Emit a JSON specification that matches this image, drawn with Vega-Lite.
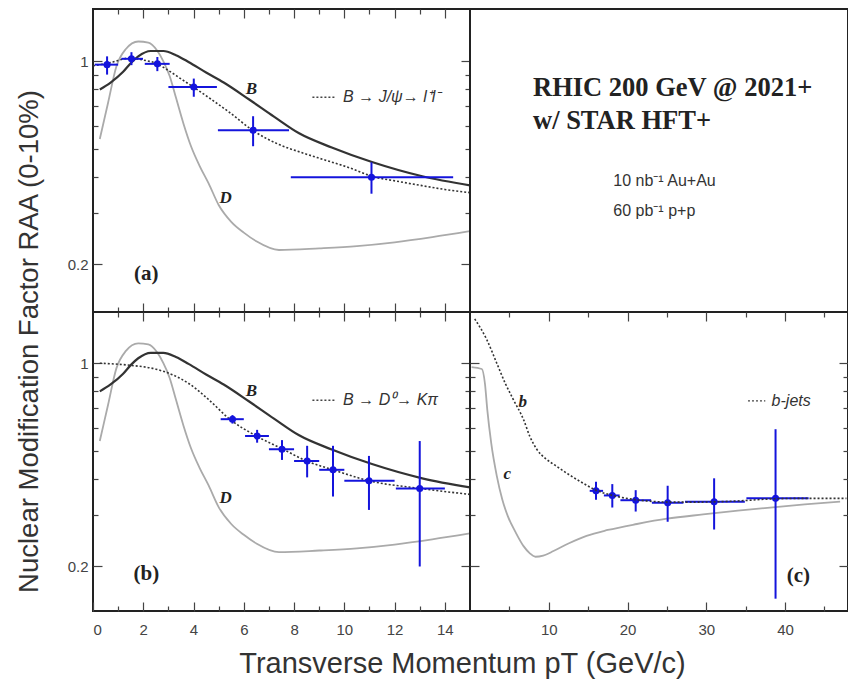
{
  "$schema": "https://vega.github.io/schema/vega-lite/v6.json",
  "background": "white",
  "padding": {"left": 14, "top": 7, "right": 0, "bottom": 0},
  "bounds": "flush",
  "spacing": 0,
  "columns": 2,
  "datasets": {
    "curves": [
      {"s":"B","x":0.27,"y":0.80},{"s":"B","x":0.7,"y":0.845},{"s":"B","x":1.2,"y":0.92},{"s":"B","x":1.5,"y":0.985},{"s":"B","x":1.8,"y":1.04},{"s":"B","x":2.3,"y":1.085},{"s":"B","x":2.8,"y":1.085},{"s":"B","x":3.3,"y":1.05},{"s":"B","x":3.8,"y":0.995},{"s":"B","x":4.5,"y":0.915},{"s":"B","x":5.2,"y":0.845},{"s":"B","x":6.2,"y":0.74},{"s":"B","x":7.2,"y":0.645},{"s":"B","x":8.2,"y":0.565},{"s":"B","x":9.5,"y":0.505},{"s":"B","x":11.1,"y":0.45},{"s":"B","x":13.1,"y":0.402},{"s":"B","x":15,"y":0.374},
      {"s":"D","x":0.27,"y":0.54},{"s":"D","x":0.6,"y":0.72},{"s":"D","x":0.93,"y":0.96},{"s":"D","x":1.3,"y":1.10},{"s":"D","x":1.8,"y":1.17},{"s":"D","x":2.2,"y":1.16},{"s":"D","x":2.55,"y":1.09},{"s":"D","x":2.8,"y":1.0},{"s":"D","x":3.05,"y":0.89},{"s":"D","x":3.3,"y":0.75},{"s":"D","x":3.6,"y":0.61},{"s":"D","x":3.9,"y":0.51},{"s":"D","x":4.25,"y":0.435},{"s":"D","x":4.6,"y":0.38},{"s":"D","x":5.0,"y":0.32},{"s":"D","x":5.5,"y":0.28},{"s":"D","x":6.0,"y":0.257},{"s":"D","x":6.5,"y":0.24},{"s":"D","x":7.4,"y":0.224},{"s":"D","x":9,"y":0.227},{"s":"D","x":10.5,"y":0.231},{"s":"D","x":12,"y":0.238},{"s":"D","x":13.5,"y":0.248},{"s":"D","x":15,"y":0.26},
      {"s":"J","x":0.0,"y":0.965},{"s":"J","x":0.7,"y":0.99},{"s":"J","x":1.5,"y":1.027},{"s":"J","x":2.0,"y":1.01},{"s":"J","x":2.5,"y":0.985},{"s":"J","x":3.0,"y":0.93},{"s":"J","x":3.5,"y":0.87},{"s":"J","x":4.0,"y":0.815},{"s":"J","x":4.7,"y":0.74},{"s":"J","x":5.4,"y":0.67},{"s":"J","x":6.4,"y":0.575},{"s":"J","x":7.4,"y":0.517},{"s":"J","x":8.3,"y":0.485},{"s":"J","x":9.2,"y":0.458},{"s":"J","x":10.2,"y":0.43},{"s":"J","x":11.1,"y":0.402},{"s":"J","x":12.2,"y":0.385},{"s":"J","x":13.1,"y":0.373},{"s":"J","x":14,"y":0.362},{"s":"J","x":15,"y":0.353},
      {"s":"D0","x":0.27,"y":1.0},{"s":"D0","x":1.46,"y":0.984},{"s":"D0","x":2.5,"y":0.954},{"s":"D0","x":3.2,"y":0.91},{"s":"D0","x":3.85,"y":0.847},{"s":"D0","x":4.6,"y":0.75},{"s":"D0","x":5.44,"y":0.642},{"s":"D0","x":6.5,"y":0.562},{"s":"D0","x":7.56,"y":0.506},{"s":"D0","x":8.5,"y":0.461},{"s":"D0","x":9.55,"y":0.43},{"s":"D0","x":11.0,"y":0.394},{"s":"D0","x":13.0,"y":0.371},{"s":"D0","x":15,"y":0.354},
      {"s":"bq","x":0.6,"y":1.42},{"s":"bq","x":2.1,"y":1.21},{"s":"bq","x":3.4,"y":1.0},{"s":"bq","x":4.5,"y":0.85},{"s":"bq","x":5.5,"y":0.75},{"s":"bq","x":6.8,"y":0.64},{"s":"bq","x":7.6,"y":0.56},{"s":"bq","x":8.5,"y":0.505},{"s":"bq","x":9.6,"y":0.47},{"s":"bq","x":11.0,"y":0.442},{"s":"bq","x":12.5,"y":0.415},{"s":"bq","x":14.0,"y":0.392},{"s":"bq","x":16.1,"y":0.365},{"s":"bq","x":18.1,"y":0.351},{"s":"bq","x":21.2,"y":0.339},{"s":"bq","x":25.4,"y":0.333},{"s":"bq","x":29.0,"y":0.333},{"s":"bq","x":33.9,"y":0.336},{"s":"bq","x":38.8,"y":0.342},{"s":"bq","x":42.3,"y":0.343},{"s":"bq","x":47.8,"y":0.343},
      {"s":"cq","x":0.2,"y":0.97},{"s":"cq","x":1.5,"y":0.955},{"s":"cq","x":1.9,"y":0.85},{"s":"cq","x":2.2,"y":0.69},{"s":"cq","x":2.7,"y":0.53},{"s":"cq","x":3.4,"y":0.41},{"s":"cq","x":4.1,"y":0.34},{"s":"cq","x":4.8,"y":0.298},{"s":"cq","x":5.8,"y":0.262},{"s":"cq","x":6.8,"y":0.235},{"s":"cq","x":7.6,"y":0.222},{"s":"cq","x":8.3,"y":0.216},{"s":"cq","x":9.3,"y":0.218},{"s":"cq","x":10.6,"y":0.226},{"s":"cq","x":12.5,"y":0.24},{"s":"cq","x":14.8,"y":0.255},{"s":"cq","x":17.5,"y":0.267},{"s":"cq","x":21.2,"y":0.28},{"s":"cq","x":25,"y":0.292},{"s":"cq","x":29.6,"y":0.302},{"s":"cq","x":34,"y":0.311},{"s":"cq","x":38.1,"y":0.319},{"s":"cq","x":42.5,"y":0.327},{"s":"cq","x":47,"y":0.334}
    ],
    "pts": [
      {"p":"a","x":0.56,"y":0.974,"xlo":0.07,"xhi":1.0,"ylo":0.90,"yhi":1.04},
      {"p":"a","x":1.53,"y":1.02,"xlo":1.13,"xhi":1.99,"ylo":0.97,"yhi":1.075},
      {"p":"a","x":2.56,"y":0.98,"xlo":2.06,"xhi":3.05,"ylo":0.925,"yhi":1.035},
      {"p":"a","x":4.01,"y":0.816,"xlo":3.0,"xhi":4.93,"ylo":0.755,"yhi":0.872},
      {"p":"a","x":6.37,"y":0.579,"xlo":4.97,"xhi":7.8,"ylo":0.51,"yhi":0.647},
      {"p":"a","x":11.08,"y":0.399,"xlo":7.87,"xhi":14.33,"ylo":0.35,"yhi":0.449},
      {"p":"b","x":5.55,"y":0.642,"xlo":5.08,"xhi":6.0,"ylo":0.62,"yhi":0.663},
      {"p":"b","x":6.53,"y":0.562,"xlo":6.05,"xhi":7.0,"ylo":0.533,"yhi":0.59},
      {"p":"b","x":7.52,"y":0.506,"xlo":7.0,"xhi":8.0,"ylo":0.465,"yhi":0.544},
      {"p":"b","x":8.52,"y":0.461,"xlo":8.0,"xhi":9.0,"ylo":0.405,"yhi":0.52},
      {"p":"b","x":9.55,"y":0.43,"xlo":9.0,"xhi":10.0,"ylo":0.348,"yhi":0.52},
      {"p":"b","x":10.98,"y":0.394,"xlo":10.0,"xhi":12.0,"ylo":0.313,"yhi":0.48},
      {"p":"b","x":13.0,"y":0.371,"xlo":12.05,"xhi":14.0,"ylo":0.20,"yhi":0.54},
      {"p":"c","x":16.0,"y":0.364,"xlo":15.2,"xhi":16.9,"ylo":0.339,"yhi":0.391},
      {"p":"c","x":18.07,"y":0.351,"xlo":17.0,"xhi":19.0,"ylo":0.319,"yhi":0.384},
      {"p":"c","x":21.04,"y":0.338,"xlo":19.1,"xhi":23.0,"ylo":0.309,"yhi":0.366},
      {"p":"c","x":25.1,"y":0.331,"xlo":23.1,"xhi":27.1,"ylo":0.285,"yhi":0.379},
      {"p":"c","x":31.0,"y":0.334,"xlo":27.3,"xhi":34.9,"ylo":0.268,"yhi":0.402},
      {"p":"c","x":38.8,"y":0.343,"xlo":35.1,"xhi":43.0,"ylo":0.155,"yhi":0.593}
    ],
    "labels": [
      {"p":"a","k":"lab","x":6.3,"y":0.80,"t":"B"},
      {"p":"a","k":"lab","x":5.28,"y":0.337,"t":"D"},
      {"p":"a","k":"pan","x":2.12,"y":0.185,"t":"(a)"},
      {"p":"a","k":"seg","x":8.73,"x2":9.68,"y":0.752},
      {"p":"a","k":"leg","x":9.95,"y":0.752,"t":"B → J/ψ→ l⁺l⁻"},
      {"p":"b","k":"lab","x":6.3,"y":0.803,"t":"B"},
      {"p":"b","k":"lab","x":5.28,"y":0.345,"t":"D"},
      {"p":"b","k":"pan","x":2.12,"y":0.188,"t":"(b)"},
      {"p":"b","k":"seg","x":8.73,"x2":9.68,"y":0.746},
      {"p":"b","k":"leg","x":9.95,"y":0.746,"t":"B → D⁰→ Kπ"},
      {"p":"c","k":"lab","x":6.69,"y":0.733,"t":"b"},
      {"p":"c","k":"lab","x":4.74,"y":0.415,"t":"c"},
      {"p":"c","k":"pan","x":41.7,"y":0.186,"t":"(c)"},
      {"p":"c","k":"seg","x":35.3,"x2":37.5,"y":0.742},
      {"p":"c","k":"leg","x":38.3,"y":0.742,"t":"b-jets"},
      {"p":"t","k":"title","x":8.0,"y":0.812,"t":"RHIC 200 GeV @ 2021+"},
      {"p":"t","k":"title","x":8.0,"y":0.622,"t":"w/ STAR HFT+"},
      {"p":"t","k":"info","x":18.2,"y":0.387,"t":"10 nb⁻¹ Au+Au"},
      {"p":"t","k":"info","x":18.2,"y":0.305,"t":"60 pb⁻¹ p+p"}
    ]
  },
  "concat": [
    {
      "width": 377, "height": 303,
      "resolve": {"axis": {"x": "independent", "y": "independent"}},
      "layer": [
        {"data": {"name": "curves"}, "transform": [{"filter": "datum.s === 'D'"}],
         "mark": {"type": "line", "color": "#aaaaaa", "strokeWidth": 1.8, "interpolate": "monotone", "clip": true},
         "encoding": {
           "x": {"field": "x", "type": "quantitative", "scale": {"domain": [0, 15], "nice": false, "zero": false},
                 "axis": {"orient": "bottom", "values": [1,2,3,4,5,6,7,8,9,10,11,12,13,14], "labels": false, "title": null,
                          "tickSize": {"condition": {"test": "datum.value % 2 === 0", "value": -9}, "value": -5}}},
           "y": {"field": "y", "type": "quantitative", "scale": {"type": "log", "domain": [0.137, 1.514], "nice": false},
                 "axis": {"orient": "left", "values": [0.2,0.3,0.4,0.5,0.6,0.7,0.8,0.9,1],
                          "labelExpr": "datum.value === 1 ? '1' : (datum.value === 0.2 ? '0.2' : '')",
                          "tickSize": {"condition": {"test": "datum.value === 1 || datum.value === 0.2", "value": -9}, "value": -5},
                          "labelPadding": 14,
                          "title": "Nuclear Modification Factor RAA (0-10%)",
                          "titleFont": "Liberation Sans", "titleFontSize": 27.5, "titleFontWeight": "normal", "titleColor": "#333",
                          "titleAngle": -90, "titleX": -64, "titleY": 332, "titleAlign": "center", "titleBaseline": "middle"}}
         }},
        {"data": {"name": "curves"}, "transform": [{"filter": "datum.s === 'B'"}],
         "mark": {"type": "line", "color": "#333333", "strokeWidth": 2.2, "interpolate": "monotone", "clip": true},
         "encoding": {
           "x": {"field": "x", "type": "quantitative",
                 "axis": {"orient": "top", "values": [1,2,3,4,5,6,7,8,9,10,11,12,13,14], "labels": false, "title": null,
                          "tickSize": {"condition": {"test": "datum.value % 2 === 0", "value": -9}, "value": -5}}},
           "y": {"field": "y", "type": "quantitative",
                 "axis": {"orient": "right", "values": [0.2,0.3,0.4,0.5,0.6,0.7,0.8,0.9,1], "labels": false, "title": null,
                          "tickSize": {"condition": {"test": "datum.value === 1 || datum.value === 0.2", "value": -9}, "value": -5}}}
         }},
        {"data": {"name": "curves"}, "transform": [{"filter": "datum.s === 'J'"}],
         "mark": {"type": "line", "color": "#333333", "strokeWidth": 1.6, "strokeDash": [2, 2], "interpolate": "monotone", "clip": true},
         "encoding": {"x": {"field": "x", "type": "quantitative", "axis": null}, "y": {"field": "y", "type": "quantitative", "axis": null}}},
        {"mark": {"type": "rule", "color": "#444444", "strokeWidth": 1.4, "strokeDash": [2, 2]},
         "encoding": {"y": {"datum": 1, "type": "quantitative", "axis": null}}},
        {"data": {"name": "pts"}, "transform": [{"filter": "datum.p === 'a'"}],
         "mark": {"type": "rule", "color": "#1414dc", "strokeWidth": 2},
         "encoding": {"x": {"field": "xlo", "type": "quantitative", "axis": null}, "x2": {"field": "xhi"}, "y": {"field": "y", "type": "quantitative", "axis": null}}},
        {"data": {"name": "pts"}, "transform": [{"filter": "datum.p === 'a'"}],
         "mark": {"type": "rule", "color": "#1414dc", "strokeWidth": 2},
         "encoding": {"x": {"field": "x", "type": "quantitative", "axis": null}, "y": {"field": "ylo", "type": "quantitative", "axis": null}, "y2": {"field": "yhi"}}},
        {"data": {"name": "pts"}, "transform": [{"filter": "datum.p === 'a'"}],
         "mark": {"type": "circle", "color": "#1414dc", "opacity": 1, "size": 50},
         "encoding": {"x": {"field": "x", "type": "quantitative", "axis": null}, "y": {"field": "y", "type": "quantitative", "axis": null}}},
        {"data": {"name": "labels"}, "transform": [{"filter": "datum.p === 'a' && datum.k === 'seg'"}],
         "mark": {"type": "rule", "color": "#444444", "strokeWidth": 1.4, "strokeDash": [2, 2]},
         "encoding": {"x": {"field": "x", "type": "quantitative", "axis": null}, "x2": {"field": "x2"}, "y": {"field": "y", "type": "quantitative", "axis": null}}},
        {"data": {"name": "labels"}, "transform": [{"filter": "datum.p === 'a' && datum.k === 'leg'"}],
         "mark": {"type": "text", "font": "Liberation Sans", "fontStyle": "italic", "fontSize": 16, "align": "left", "baseline": "middle", "color": "#333"},
         "encoding": {"x": {"field": "x", "type": "quantitative", "axis": null}, "y": {"field": "y", "type": "quantitative", "axis": null}, "text": {"field": "t"}}},
        {"data": {"name": "labels"}, "transform": [{"filter": "datum.p === 'a' && datum.k === 'lab'"}],
         "mark": {"type": "text", "font": "Liberation Serif", "fontStyle": "italic", "fontWeight": "bold", "fontSize": 17, "align": "center", "baseline": "middle", "color": "#222"},
         "encoding": {"x": {"field": "x", "type": "quantitative", "axis": null}, "y": {"field": "y", "type": "quantitative", "axis": null}, "text": {"field": "t"}}},
        {"data": {"name": "labels"}, "transform": [{"filter": "datum.p === 'a' && datum.k === 'pan'"}],
         "mark": {"type": "text", "font": "Liberation Serif", "fontWeight": "bold", "fontSize": 21, "align": "center", "baseline": "middle", "color": "#222"},
         "encoding": {"x": {"field": "x", "type": "quantitative", "axis": null}, "y": {"field": "y", "type": "quantitative", "axis": null}, "text": {"field": "t"}}}
      ]
    },
    {
      "width": 378, "height": 303,
      "data": {"name": "labels"},
      "layer": [
        {"transform": [{"filter": "datum.k === 'title'"}],
         "mark": {"type": "text", "font": "Liberation Serif", "fontWeight": "bold", "fontSize": 26.5, "align": "left", "baseline": "middle", "color": "#222"},
         "encoding": {"x": {"field": "x", "type": "quantitative", "scale": {"domain": [0, 48], "nice": false, "zero": false}, "axis": null},
                      "y": {"field": "y", "type": "quantitative", "scale": {"type": "log", "domain": [0.137, 1.514], "nice": false}, "axis": null},
                      "text": {"field": "t"}}},
        {"transform": [{"filter": "datum.k === 'info'"}],
         "mark": {"type": "text", "font": "Liberation Sans", "fontSize": 16, "align": "left", "baseline": "middle", "color": "#333"},
         "encoding": {"x": {"field": "x", "type": "quantitative", "axis": null},
                      "y": {"field": "y", "type": "quantitative", "axis": null},
                      "text": {"field": "t"}}}
      ]
    },
    {
      "width": 377, "height": 299,
      "resolve": {"axis": {"x": "independent", "y": "independent"}},
      "layer": [
        {"data": {"name": "curves"}, "transform": [{"filter": "datum.s === 'D'"}],
         "mark": {"type": "line", "color": "#aaaaaa", "strokeWidth": 1.8, "interpolate": "monotone", "clip": true},
         "encoding": {
           "x": {"field": "x", "type": "quantitative", "scale": {"domain": [0, 15], "nice": false, "zero": false},
                 "axis": {"orient": "bottom", "values": [0,1,2,3,4,5,6,7,8,9,10,11,12,13,14],
                          "labelExpr": "datum.value % 2 === 0 ? datum.label : ''",
                          "labelPadding": 20,
                          "tickSize": {"condition": {"test": "datum.value % 2 === 0", "value": -9}, "value": -5},
                          "title": "Transverse Momentum pT (GeV/c)",
                          "titleFont": "Liberation Sans", "titleFontSize": 29, "titleFontWeight": "normal", "titleColor": "#333",
                          "titleX": 369, "titleY": 52, "titleAlign": "center", "titleBaseline": "middle"}},
           "y": {"field": "y", "type": "quantitative", "scale": {"type": "log", "domain": [0.1406, 1.5], "nice": false},
                 "axis": {"orient": "left", "values": [0.2,0.3,0.4,0.5,0.6,0.7,0.8,0.9,1],
                          "labelExpr": "datum.value === 1 ? '1' : (datum.value === 0.2 ? '0.2' : '')",
                          "tickSize": {"condition": {"test": "datum.value === 1 || datum.value === 0.2", "value": -9}, "value": -5},
                          "labelPadding": 14, "title": null}}
         }},
        {"data": {"name": "curves"}, "transform": [{"filter": "datum.s === 'B'"}],
         "mark": {"type": "line", "color": "#333333", "strokeWidth": 2.2, "interpolate": "monotone", "clip": true},
         "encoding": {
           "x": {"field": "x", "type": "quantitative",
                 "axis": {"orient": "top", "values": [1,2,3,4,5,6,7,8,9,10,11,12,13,14], "labels": false, "title": null,
                          "tickSize": {"condition": {"test": "datum.value % 2 === 0", "value": -9}, "value": -5}}},
           "y": {"field": "y", "type": "quantitative",
                 "axis": {"orient": "right", "values": [0.2,0.3,0.4,0.5,0.6,0.7,0.8,0.9,1], "labels": false, "title": null,
                          "tickSize": {"condition": {"test": "datum.value === 1 || datum.value === 0.2", "value": -9}, "value": -5}}}
         }},
        {"data": {"name": "curves"}, "transform": [{"filter": "datum.s === 'D0'"}],
         "mark": {"type": "line", "color": "#333333", "strokeWidth": 1.6, "strokeDash": [2, 2], "interpolate": "monotone", "clip": true},
         "encoding": {"x": {"field": "x", "type": "quantitative", "axis": null}, "y": {"field": "y", "type": "quantitative", "axis": null}}},
        {"mark": {"type": "rule", "color": "#444444", "strokeWidth": 1.4, "strokeDash": [2, 2]},
         "encoding": {"y": {"datum": 1, "type": "quantitative", "axis": null}}},
        {"data": {"name": "pts"}, "transform": [{"filter": "datum.p === 'b'"}],
         "mark": {"type": "rule", "color": "#1414dc", "strokeWidth": 2},
         "encoding": {"x": {"field": "xlo", "type": "quantitative", "axis": null}, "x2": {"field": "xhi"}, "y": {"field": "y", "type": "quantitative", "axis": null}}},
        {"data": {"name": "pts"}, "transform": [{"filter": "datum.p === 'b'"}],
         "mark": {"type": "rule", "color": "#1414dc", "strokeWidth": 2},
         "encoding": {"x": {"field": "x", "type": "quantitative", "axis": null}, "y": {"field": "ylo", "type": "quantitative", "axis": null}, "y2": {"field": "yhi"}}},
        {"data": {"name": "pts"}, "transform": [{"filter": "datum.p === 'b'"}],
         "mark": {"type": "circle", "color": "#1414dc", "opacity": 1, "size": 50},
         "encoding": {"x": {"field": "x", "type": "quantitative", "axis": null}, "y": {"field": "y", "type": "quantitative", "axis": null}}},
        {"data": {"name": "labels"}, "transform": [{"filter": "datum.p === 'b' && datum.k === 'seg'"}],
         "mark": {"type": "rule", "color": "#444444", "strokeWidth": 1.4, "strokeDash": [2, 2]},
         "encoding": {"x": {"field": "x", "type": "quantitative", "axis": null}, "x2": {"field": "x2"}, "y": {"field": "y", "type": "quantitative", "axis": null}}},
        {"data": {"name": "labels"}, "transform": [{"filter": "datum.p === 'b' && datum.k === 'leg'"}],
         "mark": {"type": "text", "font": "Liberation Sans", "fontStyle": "italic", "fontSize": 16, "align": "left", "baseline": "middle", "color": "#333"},
         "encoding": {"x": {"field": "x", "type": "quantitative", "axis": null}, "y": {"field": "y", "type": "quantitative", "axis": null}, "text": {"field": "t"}}},
        {"data": {"name": "labels"}, "transform": [{"filter": "datum.p === 'b' && datum.k === 'lab'"}],
         "mark": {"type": "text", "font": "Liberation Serif", "fontStyle": "italic", "fontWeight": "bold", "fontSize": 17, "align": "center", "baseline": "middle", "color": "#222"},
         "encoding": {"x": {"field": "x", "type": "quantitative", "axis": null}, "y": {"field": "y", "type": "quantitative", "axis": null}, "text": {"field": "t"}}},
        {"data": {"name": "labels"}, "transform": [{"filter": "datum.p === 'b' && datum.k === 'pan'"}],
         "mark": {"type": "text", "font": "Liberation Serif", "fontWeight": "bold", "fontSize": 21, "align": "center", "baseline": "middle", "color": "#222"},
         "encoding": {"x": {"field": "x", "type": "quantitative", "axis": null}, "y": {"field": "y", "type": "quantitative", "axis": null}, "text": {"field": "t"}}}
      ]
    },
    {
      "width": 378, "height": 299,
      "resolve": {"axis": {"x": "independent", "y": "independent"}},
      "layer": [
        {"data": {"name": "curves"}, "transform": [{"filter": "datum.s === 'cq'"}],
         "mark": {"type": "line", "color": "#aaaaaa", "strokeWidth": 1.8, "interpolate": "monotone", "clip": true},
         "encoding": {
           "x": {"field": "x", "type": "quantitative", "scale": {"domain": [0, 48], "nice": false, "zero": false},
                 "axis": {"orient": "bottom", "values": [5,10,15,20,25,30,35,40,45],
                          "labelExpr": "datum.value % 10 === 0 ? datum.label : ''",
                          "labelPadding": 20,
                          "tickSize": {"condition": {"test": "datum.value % 10 === 0", "value": -9}, "value": -5},
                          "title": null}},
           "y": {"field": "y", "type": "quantitative", "scale": {"type": "log", "domain": [0.1406, 1.5], "nice": false},
                 "axis": {"orient": "left", "values": [0.2,0.3,0.4,0.5,0.6,0.7,0.8,0.9,1], "labels": false, "title": null,
                          "tickSize": {"condition": {"test": "datum.value === 1 || datum.value === 0.2", "value": -9}, "value": -5}}}
         }},
        {"mark": {"type": "rule", "color": "#444444", "strokeWidth": 1.4, "strokeDash": [2, 2]},
         "encoding": {"y": {"datum": 1, "type": "quantitative", "axis": null}}},
        {"data": {"name": "pts"}, "transform": [{"filter": "datum.p === 'c'"}],
         "mark": {"type": "rule", "color": "#1414dc", "strokeWidth": 2},
         "encoding": {"x": {"field": "xlo", "type": "quantitative",
                            "axis": {"orient": "top", "values": [5,10,15,20,25,30,35,40,45], "labels": false, "title": null,
                                     "tickSize": {"condition": {"test": "datum.value % 10 === 0", "value": -9}, "value": -5}}},
                      "x2": {"field": "xhi"},
                      "y": {"field": "y", "type": "quantitative", "axis": null}}},
        {"data": {"name": "pts"}, "transform": [{"filter": "datum.p === 'c'"}],
         "mark": {"type": "rule", "color": "#1414dc", "strokeWidth": 2},
         "encoding": {"x": {"field": "x", "type": "quantitative", "axis": null}, "y": {"field": "ylo", "type": "quantitative", "axis": null}, "y2": {"field": "yhi"}}},
        {"data": {"name": "pts"}, "transform": [{"filter": "datum.p === 'c'"}],
         "mark": {"type": "circle", "color": "#1414dc", "opacity": 1, "size": 50},
         "encoding": {"x": {"field": "x", "type": "quantitative", "axis": null}, "y": {"field": "y", "type": "quantitative", "axis": null}}},
        {"data": {"name": "curves"}, "transform": [{"filter": "datum.s === 'bq'"}],
         "mark": {"type": "line", "color": "#333333", "strokeWidth": 1.6, "strokeDash": [2, 2], "interpolate": "monotone", "clip": true},
         "encoding": {"x": {"field": "x", "type": "quantitative", "axis": null}, "y": {"field": "y", "type": "quantitative", "axis": null}}},
        {"data": {"name": "labels"}, "transform": [{"filter": "datum.p === 'c' && datum.k === 'seg'"}],
         "mark": {"type": "rule", "color": "#444444", "strokeWidth": 1.4, "strokeDash": [2, 2]},
         "encoding": {"x": {"field": "x", "type": "quantitative", "axis": null}, "x2": {"field": "x2"}, "y": {"field": "y", "type": "quantitative", "axis": null}}},
        {"data": {"name": "labels"}, "transform": [{"filter": "datum.p === 'c' && datum.k === 'leg'"}],
         "mark": {"type": "text", "font": "Liberation Sans", "fontStyle": "italic", "fontSize": 16, "align": "left", "baseline": "middle", "color": "#333"},
         "encoding": {"x": {"field": "x", "type": "quantitative", "axis": null}, "y": {"field": "y", "type": "quantitative", "axis": null}, "text": {"field": "t"}}},
        {"data": {"name": "labels"}, "transform": [{"filter": "datum.p === 'c' && datum.k === 'lab'"}],
         "mark": {"type": "text", "font": "Liberation Serif", "fontStyle": "italic", "fontWeight": "bold", "fontSize": 17, "align": "center", "baseline": "middle", "color": "#222"},
         "encoding": {"x": {"field": "x", "type": "quantitative", "axis": null}, "y": {"field": "y", "type": "quantitative",
                      "axis": {"orient": "right", "values": [0.2,0.3,0.4,0.5,0.6,0.7,0.8,0.9,1], "labels": false, "title": null,
                               "tickSize": {"condition": {"test": "datum.value === 1 || datum.value === 0.2", "value": -9}, "value": -5}}},
                      "text": {"field": "t"}}},
        {"data": {"name": "labels"}, "transform": [{"filter": "datum.p === 'c' && datum.k === 'pan'"}],
         "mark": {"type": "text", "font": "Liberation Serif", "fontWeight": "bold", "fontSize": 21, "align": "center", "baseline": "middle", "color": "#222"},
         "encoding": {"x": {"field": "x", "type": "quantitative", "axis": null}, "y": {"field": "y", "type": "quantitative", "axis": null}, "text": {"field": "t"}}}
      ]
    }
  ],
  "config": {
    "view": {"stroke": "#222222", "strokeWidth": 2},
    "concat": {"spacing": 0},
    "axis": {"domain": false, "grid": false, "tickColor": "#444444", "tickWidth": 1.2,
             "labelFont": "Liberation Sans", "labelFontSize": 15, "labelColor": "#444444"}
  }
}
